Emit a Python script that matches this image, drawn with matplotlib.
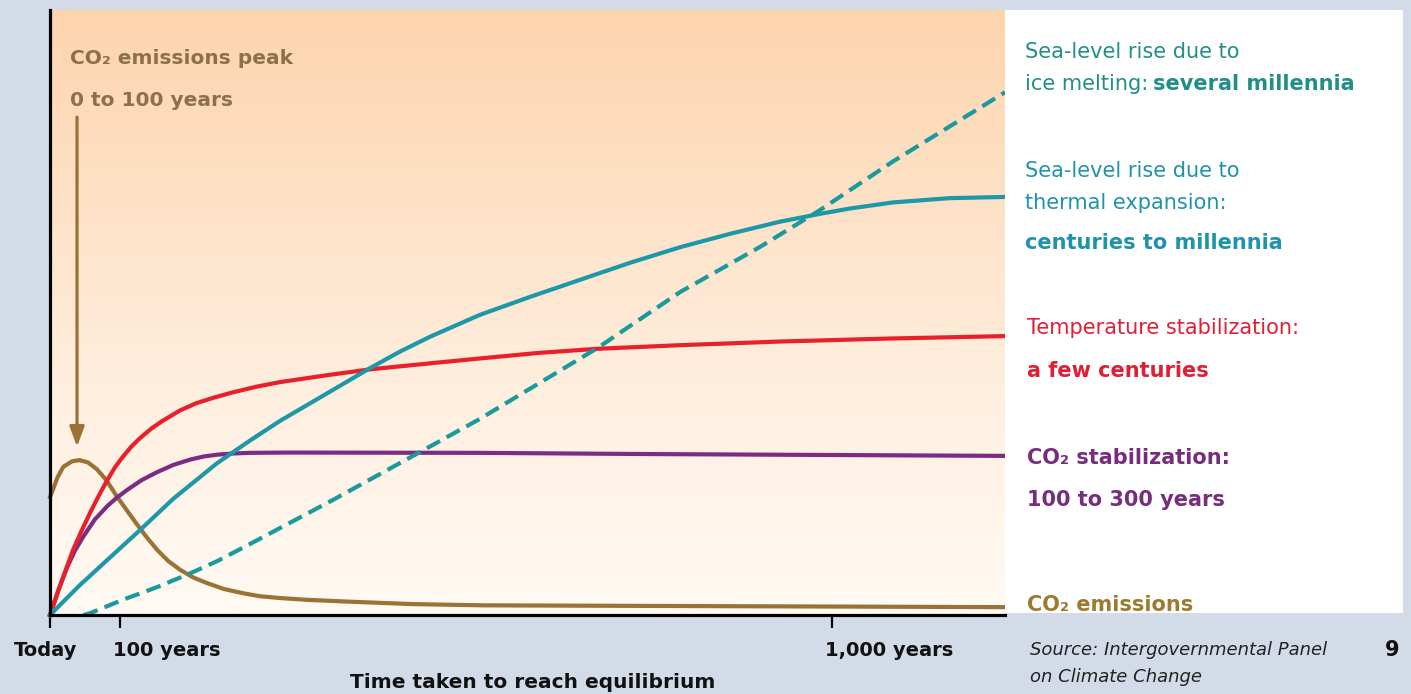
import numpy as np
import matplotlib.pyplot as plt
from matplotlib.patches import Rectangle

W, H = 1411, 694

# schematic time axis: 0 = today, 100 = right end of the chart
tick_pos = [0, 7.3, 81.9]
tick_labels = ["Today", "100 years", "1,000 years"]

# CO2 emissions (rise to a peak, then fall)
emis_x = [0, 0.3, 0.8, 1.4, 2.3, 3.1, 4.0, 4.9, 5.9, 7.0, 8.0, 9.1, 10.1, 11.2, 12.4, 13.6, 15.0,
          16.4, 18.2, 20.2, 22.0, 24.1, 27.0, 31.4, 38.0, 45.3, 62.8, 100]
emis_y = [19.5, 20.7, 22.8, 24.5, 25.4, 25.6, 25.2, 24.1, 22.3, 19.6, 17.4, 15.0, 12.9, 10.8, 8.9, 7.5, 6.2,
          5.3, 4.3, 3.6, 3.1, 2.8, 2.5, 2.2, 1.8, 1.6, 1.5, 1.3]

# CO2 stabilization
co2_x = [0, 0.9, 1.8, 2.6, 3.5, 4.7, 6.0, 7.0, 8.1, 9.6, 11.2, 12.9, 14.7, 16.1, 17.5, 19.2, 20.9, 25.0,
         45.0, 62.8, 100]
co2_y = [0, 4.2, 7.9, 10.6, 13.0, 15.8, 18.0, 19.4, 20.7, 22.3, 23.6, 24.8, 25.7, 26.2, 26.5, 26.7, 26.8, 26.85,
         26.8, 26.6, 26.3]

# temperature stabilization
temp_x = [0, 1.0, 2.4, 3.3, 4.2, 5.1, 6.0, 6.8, 7.6, 8.5, 9.4, 10.6, 11.8, 13.6, 15.3, 17.1, 18.9, 21.5,
          24.1, 29.3, 33.5, 39.8, 45.0, 51.0, 57.3, 66.0, 76.4, 88.0, 100]
temp_y = [0, 4.6, 10.7, 13.9, 16.9, 19.7, 22.3, 24.4, 26.1, 27.8, 29.2, 30.8, 32.1, 33.8, 35.0, 35.9, 36.7, 37.7,
          38.5, 39.7, 40.6, 41.6, 42.4, 43.3, 44.0, 44.6, 45.2, 45.7, 46.1]

# sea-level rise, thermal expansion
therm_x = [0, 3.1, 6.0, 9.4, 12.9, 17.5, 21.0, 24.1, 29.3, 33.5, 36.6, 39.8, 45.0, 50.3, 55.5, 60.7, 66.0,
           71.2, 76.4, 80.6, 83.8, 88.3, 94.2, 100]
therm_y = [0, 4.9, 9.1, 14.0, 19.2, 25.1, 28.9, 32.1, 36.9, 40.8, 43.5, 46.0, 49.6, 52.6, 55.4, 58.2, 60.8,
           63.0, 65.0, 66.3, 67.2, 68.2, 68.9, 69.1]

# sea-level rise, ice melting
ice_x = [3.5, 4.2, 7.6, 11.2, 14.7, 17.5, 20.9, 29.6, 38.7, 45.0, 57.3, 66.0, 74.3, 80.6, 88.3, 100]
ice_y = [0, 0.3, 2.5, 4.6, 6.9, 8.9, 11.7, 19.0, 26.9, 32.4, 44.1, 53.4, 60.8, 66.9, 75.0, 86.4]

BROWN = "#9a7234"
PURPLE = "#7b2c82"
RED = "#e8202c"
TEAL = "#1d98a8"
TEAL_D = "#1a9a9c"


def fx(px):
    return px / W


def fy(py):
    return 1 - py / H


def main():
    fig = plt.figure(figsize=(W / 100, H / 100), dpi=100)
    fig.patch.set_facecolor("#d3dbe8")

    ax = fig.add_axes([fx(50), fy(615), (1005 - 50) / W, (615 - 10) / H])

    # peach-to-white background
    stops = np.array([[253, 212, 173], [254, 226, 200], [255, 240, 225], [255, 250, 244]]) / 255
    t = np.linspace(0, 1, 300)
    grad = np.stack([np.interp(t, np.linspace(0, 1, len(stops)), stops[:, c]) for c in range(3)], axis=-1)
    ax.imshow(grad[:, None, :], extent=[0, 100, 0, 100], aspect="auto", zorder=0)

    lw = 3.0
    ax.plot(emis_x, emis_y, color=BROWN, lw=lw, clip_on=False, zorder=3, solid_joinstyle="round")
    ax.plot(co2_x, co2_y, color=PURPLE, lw=lw, clip_on=False, zorder=3, solid_joinstyle="round")
    ax.plot(temp_x, temp_y, color=RED, lw=lw, clip_on=False, zorder=3, solid_joinstyle="round")
    ax.plot(therm_x, therm_y, color=TEAL, lw=lw, clip_on=False, zorder=3, solid_joinstyle="round")
    ax.plot(ice_x, ice_y, color=TEAL_D, lw=lw, ls=(0, (3.6, 1.8)), clip_on=False, zorder=3)

    ax.annotate("", xy=(2.83, 27.8), xytext=(2.83, 82.3),
                arrowprops=dict(arrowstyle="-|>,head_length=0.6,head_width=0.22",
                                color=BROWN, lw=2.3, mutation_scale=20, shrinkA=0, shrinkB=0))

    ax.set_xlim(0, 100)
    ax.set_ylim(0, 100)
    for side in ["top", "right"]:
        ax.spines[side].set_visible(False)
    for side in ["left", "bottom"]:
        ax.spines[side].set_linewidth(2.3)
        ax.spines[side].set_color("black")
        ax.spines[side].set_zorder(4)
    ax.set_yticks([])
    ax.set_xticks(tick_pos)
    ax.tick_params(axis="x", direction="out", length=9, width=1.6, color="black", labelbottom=False)

    for pos, lab in zip(tick_pos, tick_labels):
        if pos == 0:
            ax.annotate(lab, xy=(pos, 0), xycoords=("data", "axes fraction"), xytext=(-4, -36),
                        textcoords="offset pixels", ha="center", va="center", fontsize=14,
                        fontweight="bold", color="#111111")
        else:
            ax.annotate(lab, xy=(pos, 0), xycoords=("data", "axes fraction"), xytext=(-7, -36),
                        textcoords="offset pixels", ha="left", va="center", fontsize=14,
                        fontweight="bold", color="#111111")

    fig.text(fx(533), fy(683), "Time taken to reach equilibrium", ha="center", va="center",
             fontsize=14.5, fontweight="bold", color="#111111")

    # white label panel on the right
    fig.add_artist(Rectangle((fx(1005), fy(613)), (1403 - 1005) / W, (613 - 10) / H,
                             transform=fig.transFigure, facecolor="white", edgecolor="none", zorder=1))

    def label(x, y, s, color, weight="normal", size=15, style="normal"):
        fig.text(fx(x), fy(y), s, ha="left", va="center", color=color, fontsize=size,
                 fontweight=weight, fontstyle=style, zorder=5)

    peak_col = "#8c7048"
    label(70, 58, "CO₂ emissions peak", peak_col, "bold", 14.5)
    label(70, 101, "0 to 100 years", peak_col, "bold", 14.5)

    ice_col = "#218f88"
    label(1025, 52, "Sea-level rise due to", ice_col)
    label(1025, 84, "ice melting:", ice_col)
    label(1153, 84, "several millennia", ice_col, "bold")

    therm_col = "#1f93ae"
    label(1025, 171, "Sea-level rise due to", therm_col)
    label(1025, 203, "thermal expansion:", therm_col)
    label(1025, 243, "centuries to millennia", therm_col, "bold")

    temp_col = "#e01f35"
    label(1027, 328, "Temperature stabilization:", temp_col)
    label(1027, 371, "a few centuries", temp_col, "bold")

    co2_col = "#772c7c"
    label(1027, 458, "CO₂ stabilization:", co2_col, "bold")
    label(1027, 500, "100 to 300 years", co2_col, "bold")

    label(1027, 605, "CO₂ emissions", "#9c7a2e", "bold")

    label(1030, 650, "Source: Intergovernmental Panel", "#222222", size=13, style="italic")
    label(1030, 677, "on Climate Change", "#222222", size=13, style="italic")
    label(1385, 650, "9", "#111111", "bold", 15)

    fig.savefig("out.png", dpi=100, facecolor=fig.get_facecolor())
    plt.close(fig)


if __name__ == "__main__":
    main()
